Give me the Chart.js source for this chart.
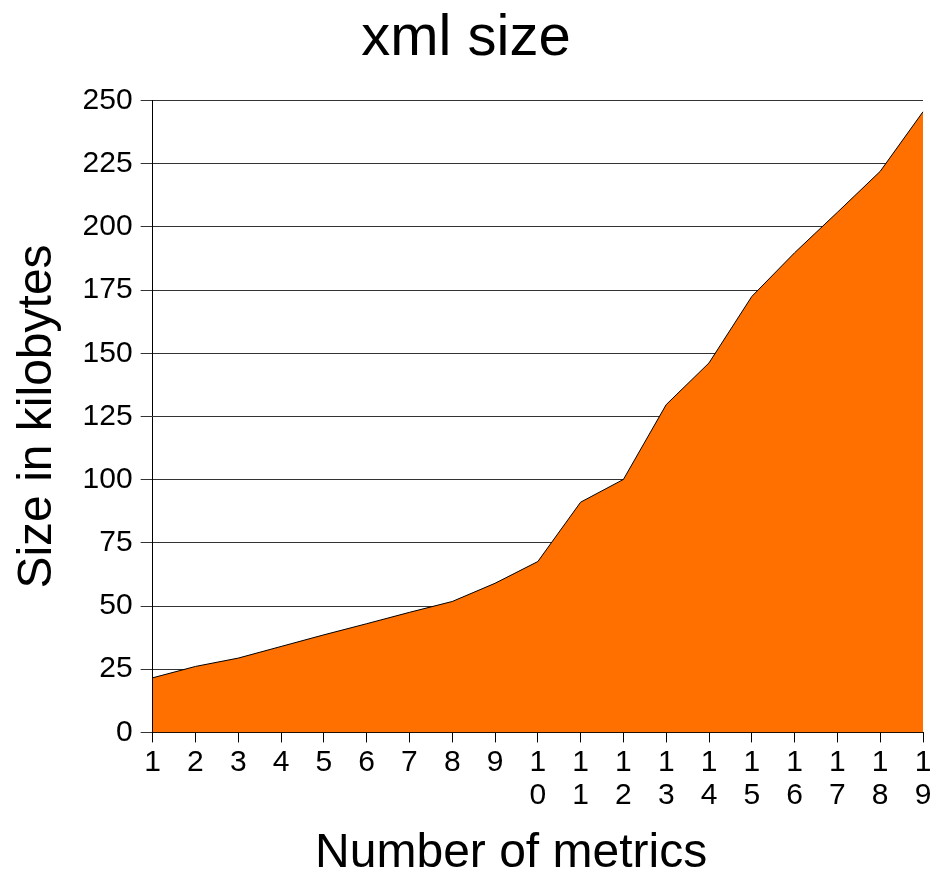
<!DOCTYPE html>
<html>
<head>
<meta charset="utf-8">
<script src="https://cdn.jsdelivr.net/npm/chart.js@4/dist/chart.umd.min.js"></script>
<style>
  body { margin: 0; background: #fff; }
  #wrap { width: 936px; height: 883px; }
</style>
</head>
<body>
<div id="wrap"><canvas id="xmlSize" width="936" height="883"></canvas></div>
<script>
/* datos del grafico */
const metricas = [
	"1", "2", "3", "4", "5", "6", "7", "8", "9",
	["1", "0"], ["1", "1"], ["1", "2"], ["1", "3"], ["1", "4"],
	["1", "5"], ["1", "6"], ["1", "7"], ["1", "8"], ["1", "9"]
];
const tamanoKb = [
	21.6, 26.1, 29.4, 34.0, 38.6, 43.0, 47.5, 51.8, 59.0, 67.6,
	91.1, 100.1, 129.7, 146.2, 172.5, 189.8, 205.8, 222.0, 245.6
];

const fuente = "'Liberation Sans', Arial, sans-serif";

const ctxXml = document.getElementById("xmlSize").getContext("2d");
let graficoXml = new Chart(ctxXml, {
	type: "line",
	data: {
		labels: metricas,
		datasets: [
			{
				label: "xml size",
				data: tamanoKb,
				backgroundColor: "rgb(255, 112, 0)",
				borderColor: "#000",
				borderWidth: 1,
				fill: "origin",
				pointRadius: 0,
				tension: 0,
			}
		],
	},
	options: {
		responsive: false,
		animation: false,
		layout: {
			padding: { top: 0, right: 13, bottom: 0, left: 9 }
		},
		scales: {
			y: {
				min: 0,
				max: 250,
				ticks: {
					stepSize: 25,
					color: "#000",
					padding: 8,
					font: { family: fuente, size: 30 },
				},
				grid: {
					color: "#333",
					lineWidth: 1,
					tickLength: 12,
				},
				border: { color: "#000", width: 1 },
				title: {
					display: true,
					text: "Size in kilobytes",
					color: "#000",
					font: { family: fuente, size: 48 },
					padding: { top: 0, bottom: 8 },
				}
			},
			x: {
				ticks: {
					color: "#000",
					maxRotation: 0,
					autoSkip: false,
					padding: 4,
					font: { family: fuente, size: 30, lineHeight: 1.1 },
				},
				grid: {
					drawOnChartArea: false,
					color: "#000",
					tickLength: 10,
				},
				border: { color: "#000", width: 1 },
				title: {
					display: true,
					// espacios al final para correr el titulo a la izquierda
					text: "Number of metrics    ",
					color: "#000",
					font: { family: fuente, size: 48 },
					padding: { top: 9, bottom: 0 },
				}
			}
		},
		plugins: {
			legend: { display: false },
			tooltip: { enabled: false },
			title: {
				display: true,
				text: "xml size",
				color: "#000",
				font: { family: fuente, size: 58, weight: "normal" },
				padding: { top: 4, bottom: 27 },
			}
		}
	},
});
</script>
</body>
</html>
